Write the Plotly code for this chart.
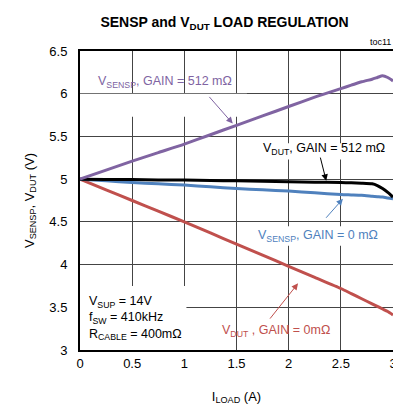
import plotly.graph_objects as go

# load current (A)
i_load = [0, 0.25, 0.5, 0.75, 1.0, 1.25, 1.5, 1.75, 2.0, 2.25, 2.5, 2.6, 2.7, 2.8, 2.85, 2.9, 2.95, 3.0]

# output voltages (V)
v_sensp_512 = [5.0, 5.105, 5.21, 5.31, 5.41, 5.52, 5.63, 5.74, 5.85, 5.96, 6.06, 6.10, 6.14, 6.17, 6.19, 6.21, 6.19, 6.15]
v_dut_512 = [5.0, 4.997, 4.995, 4.99, 4.99, 4.985, 4.98, 4.975, 4.97, 4.965, 4.96, 4.957, 4.953, 4.945, 4.925, 4.89, 4.845, 4.79]
v_sensp_0 = [5.0, 4.98, 4.96, 4.945, 4.93, 4.91, 4.89, 4.875, 4.86, 4.84, 4.82, 4.815, 4.81, 4.80, 4.795, 4.79, 4.78, 4.77]
v_dut_0 = [5.0, 4.875, 4.75, 4.625, 4.5, 4.37, 4.24, 4.11, 3.98, 3.85, 3.72, 3.66, 3.60, 3.54, 3.51, 3.48, 3.45, 3.41]

x_ticks = [0, 0.5, 1, 1.5, 2, 2.5, 3]
y_ticks = [3, 3.5, 4, 4.5, 5, 5.5, 6, 6.5]

PURPLE = '#8064a2'
BLACK = '#000000'
BLUE = '#4f81bd'
RED = '#c0504d'
FONT = 'Liberation Sans, Arial, sans-serif'

fig = go.Figure()

for y, color in [(v_dut_0, RED), (v_sensp_0, BLUE), (v_dut_512, BLACK), (v_sensp_512, PURPLE)]:
    fig.add_trace(go.Scatter(
        x=i_load, y=y,
        mode='lines',
        line=dict(color=color, width=3, shape='spline', smoothing=0.6),
        showlegend=False,
        hoverinfo='skip'
    ))

# white boxes that hide the grid behind the labels
boxes = [
    (0.0, 1.6, 5.73, 6.0),
    (1.63, 3.0, 5.23, 5.42),
    (1.64, 2.93, 4.22, 4.45),
    (0.0, 1.02, 3.0, 3.75),
]
for x0, x1, y0, y1 in boxes:
    fig.add_shape(type='rect', x0=x0, x1=x1, y0=y0, y1=y1, xref='x', yref='y',
                  fillcolor='white', line=dict(width=0), layer='between')

labels = [
    (0.15, 6.14, 'V<sub>SENSP</sub>, GAIN = 512 mΩ', PURPLE),
    (1.73, 5.35, 'V<sub>DUT</sub>, GAIN = 512 mΩ', BLACK),
    (1.69, 4.34, 'V<sub>SENSP</sub>, GAIN = 0 mΩ', BLUE),
    (1.34, 3.22, 'V<sub>DUT</sub> , GAIN = 0mΩ', RED),
]
for x, y, text, color in labels:
    fig.add_annotation(x=x, y=y, xref='x', yref='y', text=text, showarrow=False,
                       xanchor='left', yanchor='middle',
                       font=dict(family=FONT, size=12.5, color=color))

arrows = [
    (1.227, 5.98, 1.464, 5.65, PURPLE),
    (2.30, 5.27, 2.36, 4.98, BLACK),
    (2.346, 4.53, 2.52, 4.77, BLUE),
    (1.81, 3.35, 2.09, 3.78, RED),
]
for tx, ty, hx, hy, color in arrows:
    fig.add_annotation(x=hx, y=hy, ax=tx, ay=ty, xref='x', yref='y', axref='x', ayref='y',
                       text='', showarrow=True, arrowhead=2, arrowsize=1.3, arrowwidth=1,
                       arrowcolor=color)

fig.add_annotation(x=0.07, y=3.37, xref='x', yref='y', xanchor='left', yanchor='middle', align='left',
                   text='V<sub>SUP</sub> = 14V<br>f<sub>SW</sub> = 410kHz<br>R<sub>CABLE</sub> = 400mΩ',
                   showarrow=False, font=dict(family=FONT, size=12.5, color=BLACK))

fig.add_annotation(x=1, y=1.0, xref='paper', yref='paper', xanchor='right', yanchor='bottom',
                   text='toc11', showarrow=False, yshift=2,
                   font=dict(family=FONT, size=9, color=BLACK))

fig.update_layout(
    width=401, height=406,
    margin=dict(l=72, r=12, t=43, b=58),
    paper_bgcolor='white', plot_bgcolor='white',
    title=dict(text='<b>SENSP and V<sub>DUT</sub> LOAD REGULATION</b>', x=0.54, xanchor='center',
               y=0.965, yanchor='middle', font=dict(family=FONT, size=14, color=BLACK)),
    font=dict(family=FONT, size=13, color=BLACK),
)

fig.update_xaxes(
    range=[0, 3], tickvals=x_ticks, ticktext=[f'{v:g}' for v in x_ticks],
    showgrid=True, gridcolor='#444444', gridwidth=1, zeroline=False,
    showline=True, linecolor=BLACK, linewidth=2, mirror=True,
    ticks='', title=dict(text='I<sub>LOAD</sub> (A)', standoff=22, font=dict(size=13)),
)
fig.update_yaxes(
    range=[3, 6.5], tickvals=y_ticks, ticktext=[f'{v:g}' for v in y_ticks],
    showgrid=True, gridcolor='#444444', gridwidth=1, zeroline=False,
    showline=True, linecolor=BLACK, linewidth=2, mirror=True,
    ticks='outside', ticklen=8, tickcolor='white',
    title=dict(text='V<sub>SENSP</sub>, V<sub>DUT</sub> (V)', standoff=12, font=dict(size=13)),
)

fig.write_html('out.html')
